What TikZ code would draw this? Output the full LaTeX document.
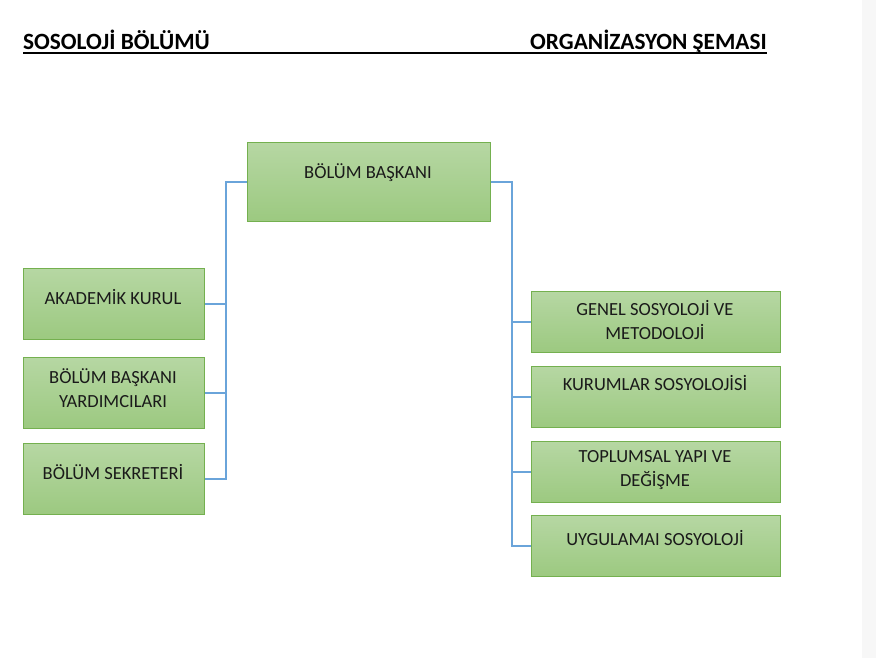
\documentclass[tikz,border=0pt]{standalone}
\usepackage{fontspec}
\setmainfont{Carlito}
\definecolor{bordergreen}{HTML}{74B04F}
\definecolor{filltop}{HTML}{B6D7A3}
\definecolor{fillbot}{HTML}{9CC980}
\definecolor{connblue}{HTML}{6AA4DA}
\definecolor{txt}{HTML}{1A1A1A}
\definecolor{stripgray}{HTML}{F7F7F7}
\tikzset{
  box/.style={rectangle, draw=bordergreen, line width=1.1pt, top color=filltop, bottom color=fillbot, anchor=north west, inner sep=0pt},
  lbl/.style={text=txt, font=\fontsize{18.5}{24.5}\selectfont, align=center, inner sep=0pt},
  conn/.style={draw=connblue, line width=1.3pt},
  title/.style={font=\fontsize{23.3}{26}\selectfont\bfseries, text=black, inner sep=0pt}
}
\begin{document}
\begin{tikzpicture}[x=1pt,y=-1pt]
\useasboundingbox (0,0) rectangle (876,658);
\fill[white] (0,0) rectangle (876,658);
\fill[stripgray] (862,0) rectangle (876,658);
% titles
\node[title, anchor=base west] (t1) at (23,50) {SOSOLOJİ BÖLÜMÜ};
\node[title, anchor=base east] (t2) at (767,50) {ORGANİZASYON ŞEMASI};
\draw[line width=1.2pt] (t1.base west) ++(0,3) coordinate (u1) -- (u1 -| t2.base east);
% boxes
\node[box, minimum width=243pt, minimum height=79pt] (bb) at (247,142) {};
\node[box, minimum width=181pt, minimum height=71pt] (ak) at (23,268) {};
\node[box, minimum width=181pt, minimum height=71pt] (yr) at (23,357) {};
\node[box, minimum width=181pt, minimum height=71pt] (sk) at (23,443) {};
\node[box, minimum width=249pt, minimum height=61pt] (gs) at (531,291) {};
\node[box, minimum width=249pt, minimum height=61pt] (ks) at (531,366) {};
\node[box, minimum width=249pt, minimum height=61pt] (ty) at (531,441) {};
\node[box, minimum width=249pt, minimum height=61pt] (us) at (531,515) {};
% labels
\node[lbl] (lbb) at (368,173) {BÖLÜM BAŞKANI};
\node[lbl] (lak) at (113,297) {AKADEMİK KURUL};
\node[lbl] (lyr) at (113,388) {BÖLÜM BAŞKANI\\YARDIMCILARI};
\node[lbl] (lsk) at (113,472) {BÖLÜM SEKRETERİ};
\node[lbl] (lgs) at (655,320) {GENEL SOSYOLOJİ VE\\METODOLOJİ};
\node[lbl] (lks) at (655,383) {KURUMLAR SOSYOLOJİSİ};
\node[lbl] (lty) at (655,470) {TOPLUMSAL YAPI VE\\DEĞİŞME};
\node[lbl] (lus) at (655,538) {UYGULAMAI SOSYOLOJİ};
% connectors
\draw[conn] (bb.west) -- ++(-21,0) |- (ak.east);
\draw[conn] (bb.west) -- ++(-21,0) |- (yr.east);
\draw[conn] (bb.west) -- ++(-21,0) |- (sk.east);
\draw[conn] (bb.east) -- ++(21,0) |- (gs.west);
\draw[conn] (bb.east) -- ++(21,0) |- (ks.west);
\draw[conn] (bb.east) -- ++(21,0) |- (ty.west);
\draw[conn] (bb.east) -- ++(21,0) |- (us.west);
\end{tikzpicture}
\end{document}
